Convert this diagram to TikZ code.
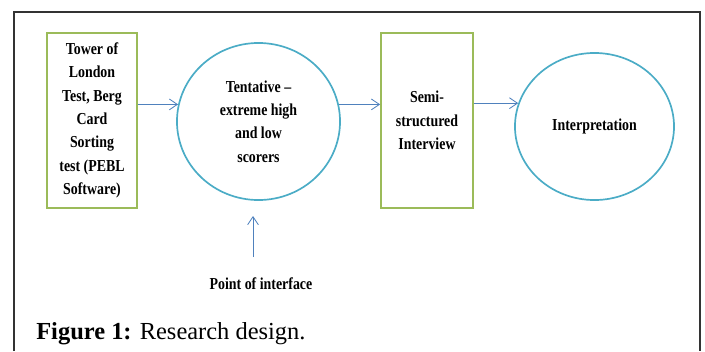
\documentclass[tikz,border=0pt]{standalone}
\usepackage{fontspec}
\setmainfont{Liberation Serif}
\newfontfamily\diagfont[FakeStretch=0.83,Ligatures=TeX]{Liberation Serif}
\usepackage{tikz}
\usetikzlibrary{arrows.meta,positioning,shapes.geometric}
\definecolor{boxgreen}{HTML}{9BBB59}
\definecolor{ringblue}{HTML}{4BACC6}
\definecolor{arrowblue}{HTML}{4F81BD}
\begin{document}
\begin{tikzpicture}[
  x=0.025cm, y=-0.025cm,
  >={Straight Barb[length=2mm,width=2.7mm]},
  font=\diagfont\bfseries\fontsize{11.9}{16.6}\selectfont,
  stagebox/.style={draw=boxgreen, line width=1.2pt, align=center, inner sep=0pt,
                   minimum height=4.375cm},
  stagering/.style={ellipse, draw=ringblue, line width=1.2pt, align=center, inner sep=0pt},
  flow/.style={->, arrowblue, line width=0.6pt},
]
  \useasboundingbox (0,0) rectangle (705,351);

  % frame, open at the bottom
  \draw[black!80, line width=1.2pt] (14,351) -- (14,12) -- (700,12) -- (700,351);

  % tests
  \node[stagebox, minimum width=2.25cm] (tests) at (92,120.5)
    {Tower of\\London\\Test, Berg\\Card\\Sorting\\test (PEBL\\Software)};

  % tentative selection
  \node[stagering, minimum width=4.075cm, minimum height=3.925cm] (tent)
    at (258.5,121.5) {Tentative –\\extreme high\\and low\\scorers};

  % interview
  \node[stagebox, minimum width=2.3cm] (interview) at (427,120.5)
    {Semi-\\structured\\Interview};

  % interpretation
  \node[stagering, minimum width=3.975cm, minimum height=3.675cm] (interp)
    at (594.5,126.5) {Interpretation};

  % flow between the stages
  \draw[flow] (tests.east |- tent.168) -- (tent.168);
  \draw[flow] (tent.12) -- (interview.west |- tent.12);
  \draw[flow] (interview.east |- interp.163) -- (interp.163);

  % point of interface
  \node (poi) at (261,284) {Point of interface};
  \coordinate (pin) at (253,216);
  \draw[flow] ([yshift=0.4cm]poi.north -| pin) -- (pin);

  % caption
  \node[anchor=base west, inner sep=0pt,
        font=\normalfont\fontsize{17.4}{20}\selectfont] (cap) at (36,339)
    {\textbf{Figure 1:} Research design.};
\end{tikzpicture}
\end{document}
